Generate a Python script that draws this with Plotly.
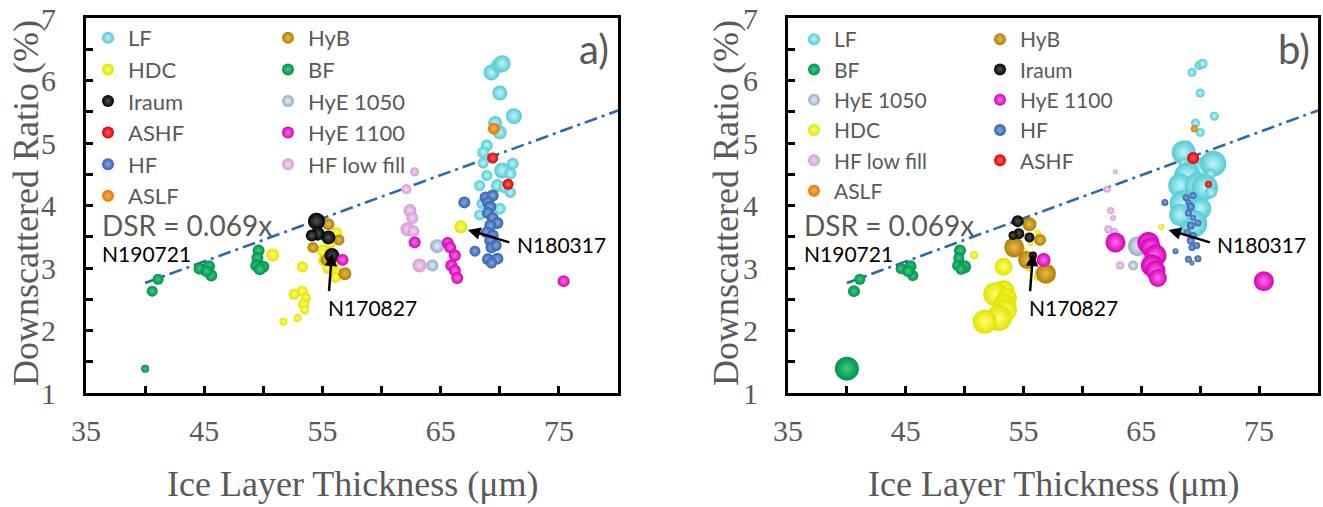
import plotly.graph_objects as go

# ---- bubble data: ice layer thickness (um), downscattered ratio (%),
#      bubble size for panel a) and panel b) ----
LF_X = [69.3, 69.9, 70.2, 70.0, 71.2, 69.6, 70.0, 68.9, 68.6, 68.6, 70.2, 71.1,
        68.9, 70.9, 68.3, 69.8, 70.4, 70.9, 68.5, 70.0, 69.4, 68.3]
LF_Y = [6.13, 6.24, 6.27, 5.80, 5.43, 5.32, 5.17, 4.96, 4.85, 4.68, 4.56, 4.67,
        4.48, 4.51, 4.32, 4.32, 4.29, 4.21, 4.03, 3.95, 3.71, 3.85]
LF_SA = [16, 15, 17, 15, 16, 14, 14, 12, 12, 11, 16, 12, 11, 12, 11, 13, 12, 11, 11, 12, 11, 11]
LF_SB = [9, 9, 10, 9, 9, 9, 9, 10, 24, 10, 26, 26, 26, 10, 24, 26, 26, 12, 26, 22, 28, 22]

HF_X = [67.0, 68.8, 69.4, 69.0, 69.2, 69.0, 69.4, 69.8, 69.2, 68.9, 69.4, 69.2,
        69.3, 69.7, 67.9, 69.0, 69.8, 69.3]
HF_Y = [4.05, 4.13, 4.16, 4.05, 3.98, 3.88, 3.80, 3.72, 3.68, 3.57, 3.52, 3.44,
        3.33, 3.36, 3.27, 3.14, 3.15, 3.08]
HF_SA = [12, 12, 12, 12, 12, 12, 12, 12, 12, 12, 12, 12, 12, 11, 11, 12, 12, 11]
HF_SB = [7, 7, 7, 6, 8, 7, 6, 7, 8, 7, 7, 8, 7, 7, 6, 7, 7, 5]

HDC_X = [66.7, 50.8, 53.3, 53.3, 52.6, 53.6, 53.4, 53.5, 52.9, 51.7,
         55.0, 55.1, 55.5, 56.2, 56.1, 56.2, 55.6, 55.9]
HDC_Y = [3.66, 3.21, 3.02, 2.63, 2.58, 2.52, 2.42, 2.33, 2.20, 2.14,
         3.28, 3.12, 3.00, 2.93, 2.85, 3.57, 3.40, 3.08]
HDC_SA = [13, 13, 11, 11, 11, 10, 11, 9, 8, 8, 12, 11, 12, 11, 11, 11, 12, 12]
HDC_SB = [6, 8, 18, 22, 24, 20, 22, 22, 26, 24, 6, 6, 7, 6, 6, 6, 6, 7]

BF_X = [40.0, 40.6, 41.1, 44.6, 45.4, 45.6, 45.2, 49.6, 49.5, 49.4, 50.0, 49.7]
BF_Y = [1.39, 2.63, 2.82, 2.99, 3.03, 2.88, 2.95, 3.28, 3.16, 3.04, 3.02, 2.98]
BF_SA = [8, 11, 11, 12, 12, 12, 12, 12, 12, 12, 12, 12]
BF_SB = [24, 12, 11, 11, 12, 11, 12, 12, 11, 11, 13, 11]

IRAUM_X = [54.5, 54.6, 55.5, 54.1, 55.8]
IRAUM_Y = [3.75, 3.55, 3.49, 3.52, 3.20]
IRAUM_SA = [17, 14, 14, 12, 15]
IRAUM_SB = [12, 11, 10, 9, 8]

HYB_X = [55.5, 54.2, 56.9, 55.3, 56.4]
HYB_Y = [3.70, 3.33, 2.91, 3.13, 3.45]
HYB_SA = [12, 11, 13, 11, 11]
HYB_SB = [14, 20, 20, 18, 12]

HYE1050_X = [64.7, 64.3]
HYE1050_Y = [3.35, 3.04]
HYE1050_SA = [14, 12]
HYE1050_SB = [20, 10]

HYE1100_X = [62.8, 65.6, 65.8, 66.2, 65.9, 66.2, 66.4, 75.4, 56.7]
HYE1100_Y = [3.41, 3.40, 3.33, 3.20, 3.04, 2.96, 2.84, 2.79, 3.13]
HYE1100_SA = [12, 12, 12, 12, 12, 12, 12, 12, 12]
HYE1100_SB = [20, 22, 20, 22, 22, 20, 18, 20, 14]

HFLOW_X = [62.8, 62.1, 62.4, 62.6, 62.2, 62.7, 63.2]
HFLOW_Y = [4.54, 4.26, 3.92, 3.80, 3.62, 3.59, 3.04]
HFLOW_SA = [9, 10, 13, 12, 14, 12, 14]
HFLOW_SB = [5, 7, 7, 6, 8, 7, 8]

ASLF_X = [69.5]
ASLF_Y = [5.23]
ASLF_SA = [12]
ASLF_SB = [7]

ASHF_X = [69.4, 70.7]
ASHF_Y = [4.76, 4.34]
ASHF_SA = [11, 11]
ASHF_SB = [12, 7]

# fitted trend: DSR = 0.069 x
DSR_SLOPE = 0.069
FIT_X = [40, 80]

X_TICKS = [35, 45, 55, 65, 75]
Y_TICKS = [1, 2, 3, 4, 5, 6, 7]

# name, x, y, size a, size b, edge colour, highlight colour
GROUPS = [
    ("LF", LF_X, LF_Y, LF_SA, LF_SB, "#52cbd3", "#c0f4f7"),
    ("HF low fill", HFLOW_X, HFLOW_Y, HFLOW_SA, HFLOW_SB, "#d699d3", "#f6d6f4"),
    ("HyE 1050", HYE1050_X, HYE1050_Y, HYE1050_SA, HYE1050_SB, "#97abca", "#e6edf7"),
    ("HDC", HDC_X, HDC_Y, HDC_SA, HDC_SB, "#e2e200", "#ffff70"),
    ("HyB", HYB_X, HYB_Y, HYB_SA, HYB_SB, "#b07e06", "#e8bc48"),
    ("BF", BF_X, BF_Y, BF_SA, BF_SB, "#00914a", "#3ccc80"),
    ("HF", HF_X, HF_Y, HF_SA, HF_SB, "#3560ac", "#84a8e6"),
    ("ASLF", ASLF_X, ASLF_Y, ASLF_SA, ASLF_SB, "#e07800", "#ffb050"),
    ("ASHF", ASHF_X, ASHF_Y, ASHF_SA, ASHF_SB, "#e00000", "#ff6060"),
    ("Iraum", IRAUM_X, IRAUM_Y, IRAUM_SA, IRAUM_SB, "#000000", "#555555"),
    ("HyE 1100", HYE1100_X, HYE1100_Y, HYE1100_SA, HYE1100_SB, "#d400b4", "#ff70ee"),
]

# legend columns (order within each column) for the two panels
LEGEND_A = {"legend": ["LF", "HDC", "Iraum", "ASHF", "HF", "ASLF"],
            "legend2": ["HyB", "BF", "HyE 1050", "HyE 1100", "HF low fill"]}
LEGEND_B = {"legend3": ["LF", "BF", "HyE 1050", "HDC", "HF low fill", "ASLF"],
            "legend4": ["HyB", "Iraum", "HyE 1100", "HF", "ASHF"]}

W, H = 1323, 507
GRAY = "#595959"
SERIF = "Liberation Serif"
SANS = "Lato"

fig = go.Figure()


def legend_slot(name, columns):
    for key, names in columns.items():
        if name in names:
            return key, names.index(name)
    return None, 0


for panel, (xa, ya, cols) in enumerate([("x", "y", LEGEND_A), ("x2", "y2", LEGEND_B)]):
    # trend line, drawn first so the spheres sit on top of it
    fig.add_trace(go.Scatter(
        x=FIT_X, y=[DSR_SLOPE * v for v in FIT_X], mode="lines",
        line=dict(color="#2b6aa6", width=2.6, dash="13px,5px,3px,5px"),
        showlegend=False, hoverinfo="skip", xaxis=xa, yaxis=ya))
    for name, gx, gy, sa, sb, edge, hi in GROUPS:
        leg, rank = legend_slot(name, cols)
        fig.add_trace(go.Scatter(
            x=gx, y=gy, mode="markers", name=name,
            marker=dict(size=sa if panel == 0 else sb, color=edge, opacity=1,
                        line=dict(width=0),
                        gradient=dict(type="radial", color=hi)),
            legend=leg, legendrank=rank + 1,
            xaxis=xa, yaxis=ya))

x_dom_a = [86 / W, 618 / W]
x_dom_b = [788 / W, 1318 / W]
y_dom = [(H - 393) / H, (H - 18) / H]

axis_common = dict(
    showline=True, linecolor="black", linewidth=3, mirror=True,
    ticks="inside", ticklen=7, tickwidth=2.5, tickcolor="black",
    showgrid=False, zeroline=False,
    tickfont=dict(family=SERIF, size=30, color=GRAY),
)

xaxis_cfg = dict(axis_common, range=[35, 80], tickmode="array", tickvals=X_TICKS,
                 ticklabelstandoff=9,
                 minor=dict(dtick=5, tick0=35, ticks="inside", ticklen=7,
                            tickwidth=2.5, tickcolor="black", showgrid=False))
yaxis_cfg = dict(axis_common, range=[1, 7], tickmode="array", tickvals=Y_TICKS,
                 ticklabelstandoff=21,
                 minor=dict(dtick=0.5, tick0=1, ticks="inside", ticklen=7,
                            tickwidth=2.5, tickcolor="black", showgrid=False))

legend_common = dict(xanchor="left", yanchor="top", bgcolor="rgba(0,0,0,0)",
                     itemsizing="constant", itemwidth=30, tracegroupgap=0,
                     orientation="v", traceorder="normal")

LEG_TOP = (H - 17) / H
fig.update_layout(
    width=W, height=H,
    margin=dict(l=0, r=0, t=0, b=0, autoexpand=False),
    paper_bgcolor="white", plot_bgcolor="white",
    xaxis=dict(xaxis_cfg, domain=x_dom_a, anchor="y"),
    yaxis=dict(yaxis_cfg, domain=y_dom, anchor="x"),
    xaxis2=dict(xaxis_cfg, domain=x_dom_b, anchor="y2"),
    yaxis2=dict(yaxis_cfg, domain=y_dom, anchor="x2"),
    legend=dict(legend_common, x=88 / W, y=LEG_TOP,
                font=dict(family=SANS, size=22, color=GRAY)),
    legend2=dict(legend_common, x=268 / W, y=LEG_TOP,
                 font=dict(family=SANS, size=22, color=GRAY)),
    legend3=dict(legend_common, x=794 / W, y=(H - 19) / H,
                 font=dict(family=SANS, size=21, color=GRAY)),
    legend4=dict(legend_common, x=980 / W, y=(H - 19) / H,
                 font=dict(family=SANS, size=21, color=GRAY)),
    showlegend=True,
)

ann = []
# axis titles
for xc in [(86 + 618) / 2 / W, (788 + 1318) / 2 / W]:
    ann.append(dict(text="Ice Layer Thickness (\u03bcm)", xref="paper", yref="paper",
                    x=xc, y=(H - 484) / H, xanchor="center", yanchor="middle",
                    showarrow=False, font=dict(family=SERIF, size=36, color=GRAY)))
for xc in [26 / W, 726 / W]:
    ann.append(dict(text="Downscattered Ratio (%)", xref="paper", yref="paper",
                    x=xc, y=(H - 203) / H, xanchor="center", yanchor="middle",
                    textangle=-90, showarrow=False,
                    font=dict(family=SERIF, size=36, color=GRAY)))

for xr, yr, tag in [("x", "y", "a)"), ("x2", "y2", "b)")]:
    ann.append(dict(text=tag, xref=xr, yref=yr, x=78.0, y=6.5, showarrow=False,
                    font=dict(family=SANS, size=40, color=GRAY)))
    ann.append(dict(text=f"DSR = {DSR_SLOPE}x", xref=xr, yref=yr, x=36.2, y=3.69,
                    xanchor="left", showarrow=False,
                    font=dict(family=SANS, size=28, color=GRAY)))
    ann.append(dict(text="N190721", xref=xr, yref=yr, x=36.2, y=3.23,
                    xanchor="left", showarrow=False,
                    font=dict(family=SANS, size=21, color="black")))
    ann.append(dict(text="N170827", xref=xr, yref=yr, x=59.2, y=2.37,
                    showarrow=False, font=dict(family=SANS, size=21, color="black")))
    ann.append(dict(text="N180317", xref=xr, yref=yr, x=75.2, y=3.38,
                    showarrow=False, font=dict(family=SANS, size=21, color="black")))
    # arrows pointing at the marked shots
    ann.append(dict(text="", xref=xr, yref=yr, x=55.8, y=3.23, ax=-3, ay=39,
                    showarrow=True, arrowhead=2, arrowsize=1, arrowwidth=2.5,
                    arrowcolor="black"))
    ann.append(dict(text="", xref=xr, yref=yr, x=67.3, y=3.61, ax=43, ay=13,
                    showarrow=True, arrowhead=2, arrowsize=1, arrowwidth=2.5,
                    arrowcolor="black"))

fig.update_layout(annotations=ann)

fig.write_html("out.html")
